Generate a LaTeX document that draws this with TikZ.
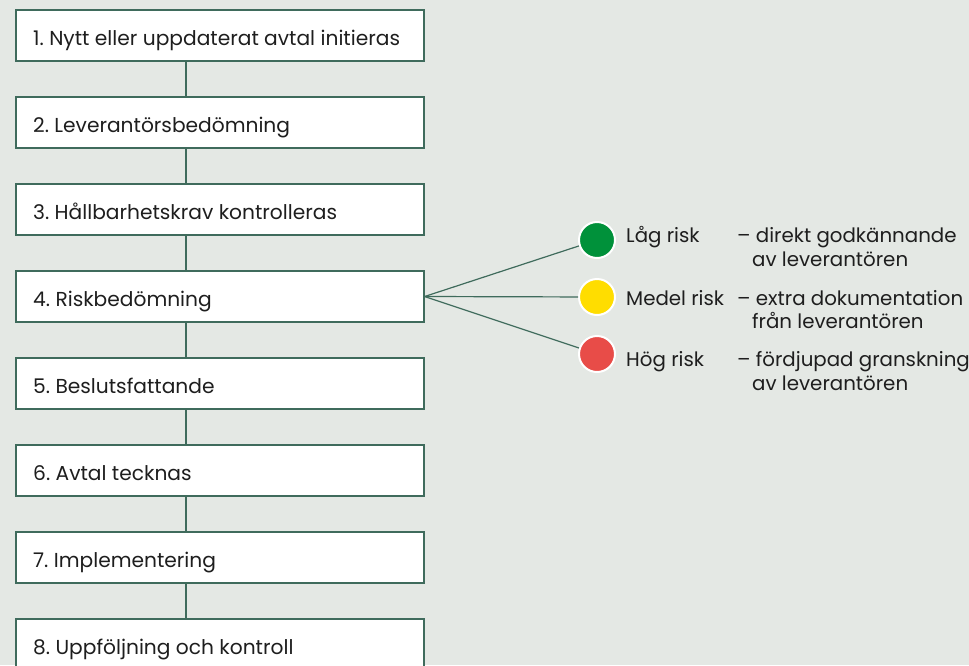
\documentclass[tikz,border=0pt]{standalone}
\usepackage{fontspec}
\setmainfont{Poppins}
\frenchspacing
\definecolor{bg}{HTML}{E4E8E4}
\definecolor{edge}{HTML}{3F6B5C}
\definecolor{ink}{HTML}{1E1E1E}
\definecolor{rgreen}{HTML}{00913A}
\definecolor{ryellow}{HTML}{FFDD00}
\definecolor{rred}{HTML}{E84C48}
\begin{document}
\begin{tikzpicture}[x=1pt,y=-1pt,
  stepbox/.style={draw=edge,line width=1.2pt,fill=white,minimum width=408pt,minimum height=51pt,
    anchor=center},
  steptext/.style={anchor=base west,inner sep=0pt,font=\fontsize{20.2}{24}\selectfont,text=ink},
  link/.style={draw=edge,line width=1.2pt},
  dot/.style={circle,draw=white,line width=2pt,minimum size=36pt,inner sep=0pt},
  risk/.style={anchor=base west,inner sep=0pt,font=\fontsize{19.8}{24}\selectfont,text=ink}]
\fill[bg] (0,0) rectangle (969,665);
\useasboundingbox (0,0) rectangle (969,665);
\clip (0,0) rectangle (969,665);
\foreach \i/\t in {1/{1. Nytt eller uppdaterat avtal initieras},2/{2. Leverantörsbedömning},3/{3. Hållbarhetskrav kontrolleras},4/{4. Riskbedömning},5/{5. Beslutsfattande},6/{6. Avtal tecknas},7/{7. Implementering},8/{8. Uppföljning och kontroll}}{
  \node[stepbox] (b\i) at (220,{35.5+87*(\i-1)}) {};
  \node[steptext] (t\i) at (33,{45+87*(\i-1)}) {\t};
}
\foreach \i [evaluate=\i as \j using int(\i+1)] in {1,...,7}{
  \draw[link] ([xshift=-34pt]b\i.south) -- ([xshift=-34pt]b\j.north);
}
\node[dot,fill=rgreen] (g) at (597,240) {};
\node[dot,fill=ryellow] (y) at (597,297) {};
\node[dot,fill=rred] (r) at (597,354) {};
\draw[link] (b4.east) -- (g);
\draw[link] (b4.east) -- (y);
\draw[link] (b4.east) -- (r);
\node[risk] (tg) at (626,242) {Låg risk};
\node[risk] (ty) at (626,305) {Medel risk};
\node[risk] (tr) at (626,366) {Hög risk};
\node[risk] (dg1) at (737,242) {– direkt godkännande};
\node[risk] (dg2) at (752,266) {av leverantören};
\node[risk] (dy1) at (737,305) {– extra dokumentation};
\node[risk] (dy2) at (752,328) {från leverantören};
\node[risk] (dr1) at (737,366) {– fördjupad granskning};
\node[risk] (dr2) at (752,390) {av leverantören};
\end{tikzpicture}
\end{document}
